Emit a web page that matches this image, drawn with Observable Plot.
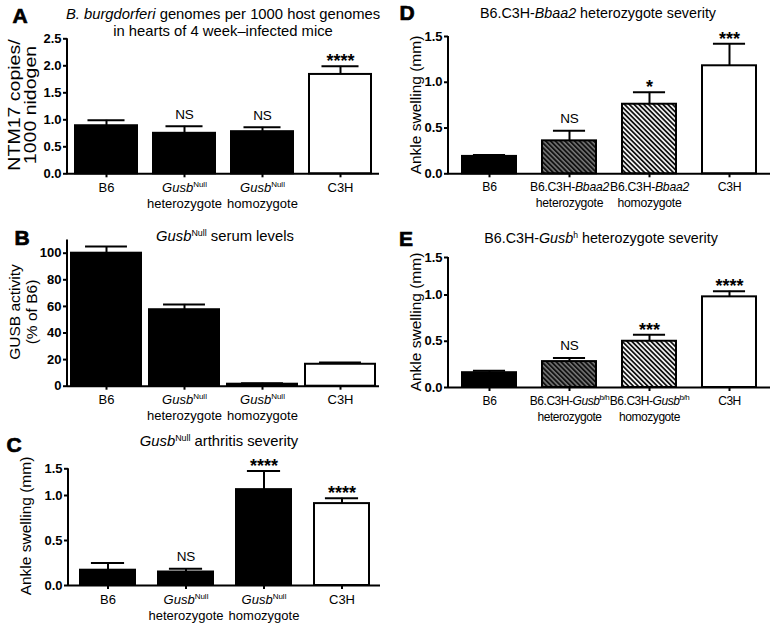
<!DOCTYPE html>
<html>
<head>
<meta charset="utf-8">
<script src="https://cdn.jsdelivr.net/npm/d3@7"></script>
<script src="https://cdn.jsdelivr.net/npm/@observablehq/plot@0.6"></script>
<style>
  body { margin: 0; background: #fff; }
  #fig { position: relative; width: 780px; height: 625px; overflow: hidden; font-family: "Liberation Sans", Arial, Helvetica, sans-serif; color: #000; }
  .panel { position: absolute; }
  .abs { position: absolute; white-space: nowrap; text-align: center; transform: translate(-50%, -50%); }
  .letter { font-weight: bold; font-size: 21px; line-height: 21px; -webkit-text-stroke: 0.7px #000; }
  .title { font-size: 14.8px; line-height: 17px; }
  .ylab { font-size: 15.5px; line-height: 17px; transform: translate(-50%, -50%) rotate(-90deg); }
  sup { font-size: 0.6em; vertical-align: 0; position: relative; top: -0.55em; }
</style>
</head>
<body>
<svg width="0" height="0" style="position:absolute">
  <defs>
    <pattern id="hatchDark" patternUnits="userSpaceOnUse" width="3.4" height="3.4" patternTransform="rotate(-45)">
      <rect width="3.4" height="3.4" fill="#7a7a7a"></rect>
      <rect width="1.9" height="3.4" fill="#111"></rect>
    </pattern>
    <pattern id="hatchLight" patternUnits="userSpaceOnUse" width="3.4" height="3.4" patternTransform="rotate(-45)">
      <rect width="3.4" height="3.4" fill="#eeeeee"></rect>
      <rect width="1.7" height="3.4" fill="#111"></rect>
    </pattern>
  </defs>
</svg>
<div id="fig"></div>
<script>
// ---------------- data ----------------
const groups = ["B6", "het", "hom", "C3H"];

const labelsGusbNull = ["B6", "_Gusb_^Null^|heterozygote", "_Gusb_^Null^|homozygote", "C3H"];
const labelsBbaa2 = ["B6", "B6.C3H-_Bbaa2_|heterozygote", "B6.C3H-_Bbaa2_|homozygote", "C3H"];
const labelsGusbBh = ["B6", "B6.C3H-_Gusb_^b/h^|heterozygote", "B6.C3H-_Gusb_^b/h^|homozygote", "C3H"];

// A: B. burgdorferi genomes
const valuesA = [0.89, 0.75, 0.78, 1.84];
const errTopA = [0.99, 0.88, 0.86, 1.99];
const sigA = ["", "NS", "NS", "****"];
const ticksA = [0, 0.5, 1.0, 1.5, 2.0, 2.5];

// B: GUSB serum activity
const valuesB = [100, 57.5, 1.5, 16.5];
const errTopB = [105, 61.5, 2.2, 17.8];
const sigB = ["", "", "", ""];
const ticksB = [0, 20, 40, 60, 80, 100];

// C: GusbNull arthritis severity
const valuesC = [0.17, 0.15, 1.11, 0.91];
const errTopC = [0.25, 0.185, 1.46, 0.97];
const sigC = ["", "NS", "****", "****"];

// D: Bbaa2 heterozygote severity
const valuesD = [0.19, 0.36, 0.76, 1.18];
const errTopD = [0.205, 0.47, 0.89, 1.42];
const sigD = ["", "NS", "*", "***"];

// E: Gusb h heterozygote severity
const valuesE = [0.16, 0.28, 0.50, 0.98];
const errTopE = [0.18, 0.32, 0.57, 1.05];
const sigE = ["", "NS", "***", "****"];

const ticksSwell = [0, 0.5, 1.0, 1.5];

const titles = {
  A: "_B. burgdorferi_ genomes per 1000 host genomes|in hearts of 4 week\u2013infected mice",
  B: "_Gusb_^Null^ serum levels",
  C: "_Gusb_^Null^ arthritis severity",
  D: "B6.C3H-_Bbaa2_ heterozygote severity",
  E: "B6.C3H-_Gusb_^h^ heterozygote severity"
};
const ylabels = {
  A: "NTM17 copies/|1000 nidogen",
  B: "GUSB activity|(% of B6)",
  C: "Ankle swelling (mm)",
  D: "Ankle swelling (mm)",
  E: "Ankle swelling (mm)"
};

// ---------------- helpers ----------------
const FONT = '"Liberation Sans", Arial, Helvetica, sans-serif';
const SVGNS = "http://www.w3.org/2000/svg";
const fig = document.getElementById("fig");

function parseRuns(line) {
  const runs = []; let italic = false, sup = false, buf = "";
  for (const ch of line) {
    if (ch === "_" || ch === "^") {
      if (buf) runs.push({t: buf, italic, sup});
      buf = "";
      if (ch === "_") italic = !italic; else sup = !sup;
    } else buf += ch;
  }
  if (buf) runs.push({t: buf, italic, sup});
  return runs;
}
function toHTML(spec) {
  return spec.split("|").map(line => parseRuns(line).map(r => {
    let s = r.t.replace(/&/g, "&amp;").replace(/</g, "&lt;");
    if (r.italic) s = `<i>${s}</i>`;
    if (r.sup) s = `<sup>${s}</sup>`;
    return s;
  }).join("")).join("<br>");
}
function setRichSVG(t, spec, lineH, supSize, supShift) {
  while (t.firstChild) t.removeChild(t.firstChild);
  const x0 = t.getAttribute("x") || 0;
  let shift = 0;
  spec.split("|").forEach((line, li) => {
    parseRuns(line).forEach((r, ri) => {
      const ts = document.createElementNS(SVGNS, "tspan");
      let dy = 0;
      if (li > 0 && ri === 0) { ts.setAttribute("x", x0); dy += lineH; }
      const target = r.sup ? -supShift : 0;
      dy += target - shift; shift = target;
      if (dy) ts.setAttribute("dy", dy);
      if (r.italic) ts.setAttribute("font-style", "italic");
      if (r.sup) ts.setAttribute("font-size", supSize);
      ts.textContent = r.t;
      t.appendChild(ts);
    });
  });
}
function addDiv(cls, html, x, y, extra) {
  const d = document.createElement("div");
  d.className = "abs " + cls;
  d.innerHTML = html;
  d.style.left = x + "px";
  d.style.top = y + "px";
  if (extra) Object.assign(d.style, extra);
  fig.appendChild(d);
  return d;
}

function drawPanel(cfg) {
  const data = groups.map((g, i) => ({g, v: cfg.values[i], e: cfg.err[i], s: cfg.sig[i], f: cfg.fills[i]}));
  const frameW = cfg.width - cfg.ml - cfg.mr;
  const bw = frameW / groups.length * (1 - cfg.pad);
  const capInset = bw * 0.2;
  const yTop = cfg.yDomain[cfg.yDomain.length - 1];
  const leftLine = (index, scales) => {
    const l = document.createElementNS(SVGNS, "line");
    l.setAttribute("x1", cfg.ml); l.setAttribute("x2", cfg.ml);
    l.setAttribute("y1", scales.y(yTop)); l.setAttribute("y2", scales.y(0) + 1);
    l.setAttribute("stroke", "#000"); l.setAttribute("stroke-width", 2);
    return l;
  };
  const yOpt = cfg.yRange ? {type: "linear", domain: cfg.yDomain, range: cfg.yRange} : {type: "linear", domain: cfg.yDomain};
  const plot = Plot.plot({
    width: cfg.width, height: cfg.height,
    marginLeft: cfg.ml, marginRight: cfg.mr, marginTop: cfg.mt, marginBottom: cfg.mb,
    style: {background: "transparent", fontFamily: FONT, color: "#000", overflow: "visible"},
    x: {domain: groups, paddingInner: cfg.pad, paddingOuter: cfg.pad / 2, align: 0.5},
    y: yOpt,
    color: {type: "identity"},
    marks: [
      Plot.barY(data, {x: "g", y: "v", fill: "f", stroke: "#000", strokeWidth: 2}),
      Plot.ruleX(data, {x: "g", y1: "v", y2: "e", stroke: "#000", strokeWidth: 2}),
      Plot.tickY(data, {x: "g", y: "e", stroke: "#000", strokeWidth: 2, insetLeft: capInset, insetRight: capInset}),
      Plot.text(data.filter(d => d.s === "NS"), {x: "g", y: "e", text: "s", dy: -12, fontSize: 13.5, fill: "#000"}),
      Plot.text(data.filter(d => d.s && d.s !== "NS"), {x: "g", y: "e", text: "s", dy: -5, fontSize: 18, fontWeight: "bold", fill: "#000"}),
      Plot.axisY({ticks: cfg.ticks, tickFormat: cfg.fmt, tickSize: 4, tickPadding: 2, strokeWidth: 2, fontSize: 13, fontWeight: "bold", label: null}),
      Plot.axisX({tickSize: 4, strokeWidth: 2, tickPadding: 5, fontSize: cfg.xFont || 13, label: null}),
      Plot.ruleY([0], {stroke: "#000", strokeWidth: 2}),
      leftLine
    ]
  });
  plot.querySelectorAll('g[aria-label="x-axis tick label"] text').forEach((t, i) => {
    if (cfg.xSpacing) t.setAttribute("letter-spacing", cfg.xSpacing);
    setRichSVG(t, cfg.labels[i], 16, 8, 5);
  });
  const div = document.createElement("div");
  div.className = "panel";
  div.style.left = cfg.left + "px";
  div.style.top = cfg.top + "px";
  div.style.width = cfg.width + "px";
  div.appendChild(plot);
  fig.appendChild(div);
}

const fmt1 = d => d.toFixed(1);
const solidFills = ["#000", "#000", "#000", "#fff"];
const hatchFills = ["#000", "url(#hatchDark)", "url(#hatchLight)", "#fff"];

drawPanel({left: 0, top: 30, width: 390, height: 200, ml: 67, mr: 11, mt: 8.3, mb: 56.7, pad: 0.2,
  yDomain: [0, 2.5], ticks: ticksA, fmt: fmt1, values: valuesA, err: errTopA, sig: sigA, fills: solidFills, labels: labelsGusbNull});
drawPanel({left: 0, top: 230, width: 390, height: 190, ml: 67, mr: 11, mt: 9.4, mb: 34.3, pad: 0.1,
  yDomain: [0, 110], ticks: ticksB, fmt: d => d, values: valuesB, err: errTopB, sig: sigB, fills: solidFills, labels: labelsGusbNull});
drawPanel({left: 0, top: 455, width: 390, height: 170, ml: 68, mr: 10, mt: 13, mb: 40, pad: 0.3,
  yDomain: [0, 1, 1.5], yRange: [130, 40, 13.3], ticks: ticksSwell, fmt: fmt1, values: valuesC, err: errTopC, sig: sigC, fills: solidFills, labels: labelsGusbNull});
drawPanel({left: 390, top: 25, width: 390, height: 190, ml: 58, mr: 10, mt: 11, mb: 41.7, pad: 0.32,
  yDomain: [0, 1.5], ticks: ticksSwell, fmt: fmt1, values: valuesD, err: errTopD, sig: sigD, fills: hatchFills, labels: labelsBbaa2, xFont: 12.2, xSpacing: -0.25});
drawPanel({left: 390, top: 245, width: 390, height: 185, ml: 58, mr: 10, mt: 12, mb: 43, pad: 0.32,
  yDomain: [0, 1, 1.5], yRange: [142, 49.5, 12], ticks: ticksSwell, fmt: fmt1, values: valuesE, err: errTopE, sig: sigE, fills: hatchFills, labels: labelsGusbBh, xFont: 12, xSpacing: -0.45});

// titles
addDiv("title", toHTML(titles.A), 223, 22.5);
addDiv("title", toHTML(titles.B), 225, 237);
addDiv("title", toHTML(titles.C), 219, 442);
addDiv("title", toHTML(titles.D), 598, 13, {fontSize: "14.3px"});
addDiv("title", toHTML(titles.E), 601, 239, {fontSize: "14.3px"});
// y labels
addDiv("ylab", toHTML(ylabels.A), 22.5, 105, {fontSize: "16px", lineHeight: "16px", transform: "translate(-50%, -50%) rotate(-90deg) scaleX(1.22)"});
addDiv("ylab", toHTML(ylabels.B), 22.5, 312);
addDiv("ylab", toHTML(ylabels.C), 25, 526);
addDiv("ylab", toHTML(ylabels.D), 415, 105);
addDiv("ylab", toHTML(ylabels.E), 415, 322);
// panel letters
addDiv("letter", "A", 20, 15);
addDiv("letter", "B", 22, 237);
addDiv("letter", "C", 14, 444);
addDiv("letter", "D", 407, 12);
addDiv("letter", "E", 406, 238);
</script>
</body>
</html>
